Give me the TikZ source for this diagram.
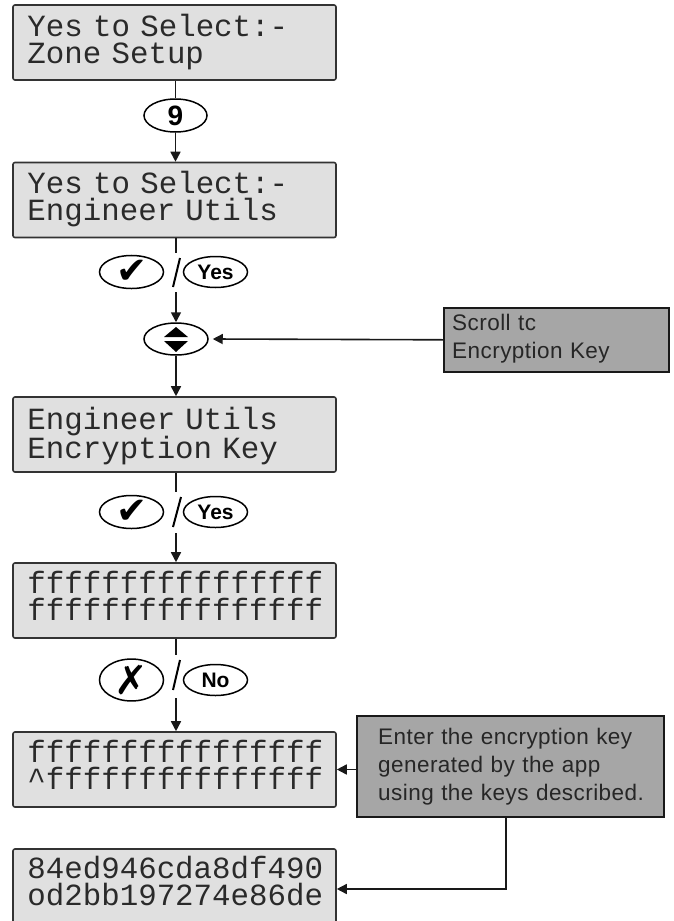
\documentclass[tikz,border=0pt]{standalone}
\usepackage{fontspec}
\usetikzlibrary{arrows.meta,shapes.geometric}
\newfontfamily\lcdfont{Liberation Mono}
\newfontfamily\annofont[LetterSpace=2]{Liberation Sans}
\newfontfamily\keyfont{Liberation Sans}
\newfontfamily\symfont{DejaVu Sans}
\definecolor{lcdfill}{HTML}{E0E0E0}
\definecolor{lcdline}{HTML}{333333}
\definecolor{lcdtext}{HTML}{2A2A2A}
\definecolor{annofill}{HTML}{A6A6A6}
\begin{document}
\begin{tikzpicture}[x=1pt,y=-1pt,
  lcdbox/.style={draw=lcdline, fill=lcdfill, line width=1.6pt, rounded corners=2pt,
    minimum width=323pt, minimum height=75pt, inner sep=0pt},
  lcdtxt/.style={anchor=base west, inner sep=0pt, text width=310pt, align=left,
    text=lcdtext, font=\lcdfont\fontsize{30.8}{27}\selectfont},
  annobox/.style={draw=black!90, fill=annofill, line width=1.6pt, inner sep=0pt, anchor=north west},
  annotxt/.style={anchor=base west, inner sep=0pt, text width=295pt, align=left,
    text=black!85, font=\annofont\fontsize{22.5}{28}\selectfont},
  keyell/.style={draw=black, line width=1.5pt, ellipse, inner sep=0pt, fill=white,
    minimum width=64pt, minimum height=31pt},
  keytxt/.style={font=\keyfont\bfseries\fontsize{21}{22}\selectfont},
  symtxt/.style={font=\symfont\fontsize{37}{40}\selectfont},
  conn/.style={line width=1.6pt, draw=black!90},
  arr/.style={conn, -{Triangle[length=10pt,width=10pt]}},
  slash/.style={line width=2pt, draw=black}
]
\useasboundingbox (0,0) rectangle (673,921);
\clip (0,0) rectangle (673,921);

% LCD boxes
\node[lcdbox] (b1) at (174.5,42.5) {};
\node[lcdbox] (b2) at (174.5,200) {};
\node[lcdbox] (b3) at (174.5,434.5) {};
\node[lcdbox] (b4) at (174.5,600.5) {};
\node[lcdbox] (b5) at (174.5,769.5) {};
\node[lcdbox] (b6) at (174.5,886.5) {};

\node[lcdtxt] (t1) at ([xshift=15pt,yshift=-32pt]b1.north west) {Yes to Select:-\\Zone Setup};
\node[lcdtxt] (t2) at ([xshift=15pt,yshift=-32pt]b2.north west) {Yes to Select:-\\Engineer Utils};
\node[lcdtxt] (t3) at ([xshift=15pt,yshift=-33pt]b3.north west) {Engineer Utils\\Encryption Key};
\node[lcdtxt] (t4) at ([xshift=15pt,yshift=-31pt]b4.north west) {ffffffffffffffff\\ffffffffffffffff};
\node[lcdtxt] (t5) at ([xshift=15pt,yshift=-31pt]b5.north west) {ffffffffffffffff\\\^{}fffffffffffffff};
\node[lcdtxt] (t6) at ([xshift=15pt,yshift=-30pt]b6.north west) {84ed946cda8df490\\od2bb197274e86de};

% key 9
\node[keyell, minimum width=63pt, minimum height=33pt, font=\keyfont\bfseries\fontsize{28}{30}\selectfont] (k9) at (175.5,115.5) {9};

% row 1 : check / yes
\node[keyell, symtxt] (c1) at (131.5,272) {✔};
\node[keyell, keytxt] (y1) at (215.5,272) {Yes};
\coordinate (s1a) at (173,287);
\coordinate (s1b) at (180,258);
\draw[slash] (s1a) -- (s1b);

% scroll key
\node[keyell, minimum height=32pt] (sc) at (176,339) {};
\fill (sc.center) ++(0,-12) -- ++(12,10) -- ++(-24,0) -- cycle;
\fill (sc.center) ++(0,13) -- ++(12,-11) -- ++(-24,0) -- cycle;

% row 2 : check / yes
\node[keyell, symtxt] (c2) at (131.5,512) {✔};
\node[keyell, keytxt] (y2) at (215.5,512) {Yes};
\coordinate (s2a) at (173,527);
\coordinate (s2b) at (181,497);
\draw[slash] (s2a) -- (s2b);

% row 3 : cross / no
\node[keyell, font=\symfont\fontsize{40}{42}\selectfont] (x3) at (131.5,680) {✗};
\node[keyell, keytxt] (n3) at (215.5,680) {No};
\coordinate (s3a) at (173,690);
\coordinate (s3b) at (180,660);
\draw[slash] (s3a) -- (s3b);

% annotation boxes
\node[annobox, minimum width=225pt, minimum height=64pt] (scb) at (443,307) {};
\node[annotxt] (scbt) at ([xshift=9pt,yshift=-23pt]scb.north west) {Scroll tc\\Encryption Key};
\node[annobox, minimum width=307pt, minimum height=101pt] (ent) at (356,715) {};
\node[annotxt] (entt) at ([xshift=22pt,yshift=-29pt]ent.north west) {Enter the encryption key\\generated by the app\\using the keys described.};

% connector coordinates
\coordinate (g1a) at (176,253);
\coordinate (g1b) at (176,292);
\coordinate (g2a) at (176,492);
\coordinate (g2b) at (176,533);
\coordinate (g3a) at (176,655);
\coordinate (g3b) at (176,698);

% connectors
\draw[conn] (b1.south -| k9.north) -- (k9.north);
\draw[arr] (k9.south) -- (k9.south |- b2.north);
\draw[conn] (b2.south -| g1a) -- (g1a);
\draw[arr] (g1b) -- (sc.north);
\draw[arr] (scb.west) -- ([xshift=4pt]sc.east);
\draw[arr] (sc.south) -- (sc.south |- b3.north);
\draw[conn] (b3.south -| g2a) -- (g2a);
\draw[arr] (g2b) -- (g2b |- b4.north);
\draw[conn] (b4.south -| g3a) -- (g3a);
\draw[arr] (g3b) -- (g3b |- b5.north);
\draw[arr] (ent.west |- b5.east) -- (b5.east);
\draw[arr] ([xshift=-4.5pt]ent.south) |- ([yshift=-2.5pt]b6.east);
\end{tikzpicture}
\end{document}
